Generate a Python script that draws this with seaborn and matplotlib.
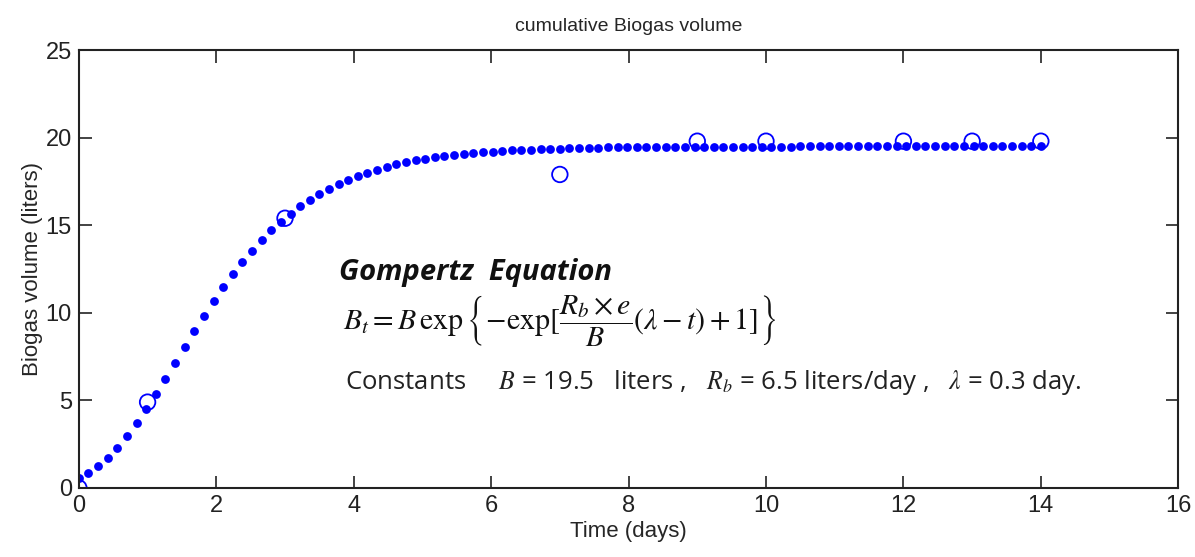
import numpy as np
import pandas as pd
import matplotlib
matplotlib.use("Agg")
import matplotlib.pyplot as plt
import seaborn as sns

# ---- data ----
model_y = [0.55, 0.84, 1.23, 1.70, 2.28, 2.94, 3.68, 4.49, 5.35, 6.24, 7.15,
           8.06, 8.95, 9.82, 10.66, 11.45, 12.20, 12.90, 13.55, 14.16, 14.71,
           15.21, 15.67, 16.08, 16.45, 16.79, 17.09, 17.36, 17.60, 17.82, 18.01,
           18.18, 18.34, 18.47, 18.59, 18.70, 18.79, 18.87, 18.95, 19.01, 19.07,
           19.12, 19.17, 19.21, 19.24, 19.27, 19.30, 19.32, 19.34, 19.36, 19.38,
           19.39, 19.41, 19.42, 19.43, 19.44, 19.44, 19.45, 19.46, 19.46, 19.47,
           19.47, 19.47, 19.48, 19.48, 19.48, 19.48, 19.49, 19.49, 19.49, 19.49,
           19.49, 19.49, 19.49, 19.49, 19.50, 19.50, 19.50, 19.50, 19.50, 19.50,
           19.50, 19.50, 19.50, 19.50, 19.50, 19.50, 19.50, 19.50, 19.50, 19.50,
           19.50, 19.50, 19.50, 19.50, 19.50, 19.50, 19.50, 19.50, 19.50, 19.50]
model_t = np.linspace(0, 14, len(model_y))

obs_t = [0, 1, 3, 7, 9, 10, 12, 13, 14]
obs_y = [0, 4.9, 15.4, 17.9, 19.8, 19.8, 19.8, 19.8, 19.8]

x_ticks = [0, 2, 4, 6, 8, 10, 12, 14, 16]
y_ticks = [0, 5, 10, 15, 20, 25]

title = "cumulative Biogas volume"
xlabel = "Time (days)"
ylabel = "Biogas volume (liters)"

# ---- style ----
sns.set_style("white", {"xtick.bottom": True, "ytick.left": True,
                        "xtick.top": True, "ytick.right": True,
                        "xtick.direction": "in", "ytick.direction": "in"})
plt.rcParams['font.family'] = ['Liberation Sans', 'DejaVu Sans']

fig = plt.figure(figsize=(11.95, 5.57), dpi=100)
ax = fig.add_axes([0.066, 0.124, 0.920, 0.786])

df_model = pd.DataFrame({"t": model_t, "y": model_y})
df_obs = pd.DataFrame({"t": obs_t, "y": obs_y})

sns.scatterplot(data=df_model, x="t", y="y", ax=ax, color="#0000ff",
                s=40, linewidth=0, marker="o", zorder=3)
sns.scatterplot(data=df_obs, x="t", y="y", ax=ax, facecolor="none",
                edgecolor="#0000ff", s=125, linewidth=1.3, marker="o", zorder=4)

ax.set_xlim(0, 16)
ax.set_ylim(0, 25)
ax.set_xticks(x_ticks)
ax.set_yticks(y_ticks)
ax.tick_params(axis="both", which="major", direction="in", length=9, width=1.2,
               bottom=True, top=True, left=True, right=True,
               labelbottom=True, labelleft=True, labeltop=False, labelright=False,
               labelsize=17, color="#222222", labelcolor="#222222", pad=5)
for sp in ax.spines.values():
    sp.set_visible(True)
    sp.set_linewidth(1.5)
    sp.set_color("#222222")
    sp.set_zorder(5)

ax.set_title(title, fontsize=14, pad=14)
ax.set_xlabel(xlabel, fontsize=16, labelpad=3)
ax.set_ylabel(ylabel, fontsize=16, labelpad=2)

# ---- annotation ----
ax.text(3.78, 12.3, "Gompertz  Equation", fontsize=21, fontweight="bold",
        fontstyle="italic", family=["Open Sans", "DejaVu Sans"],
        ha="left", va="center", color="#111111")
ax.text(3.85, 9.5,
        r"$B_t = B\,\exp\left\{-\exp[\dfrac{R_b\times e}{B}(\lambda-t)+1]\right\}$",
        fontsize=21.5, math_fontfamily="stix", ha="left", va="center",
        color="#111111")
ax.text(3.88, 6.0,
        r"Constants     $B$ = 19.5   liters ,   $R_b$ = 6.5 liters/day ,   $\lambda$ = 0.3 day.",
        fontsize=18.5, family=["Open Sans", "DejaVu Sans"], math_fontfamily="stix",
        ha="left", va="center", color="#222222")

fig.savefig("out.png", dpi=100)
